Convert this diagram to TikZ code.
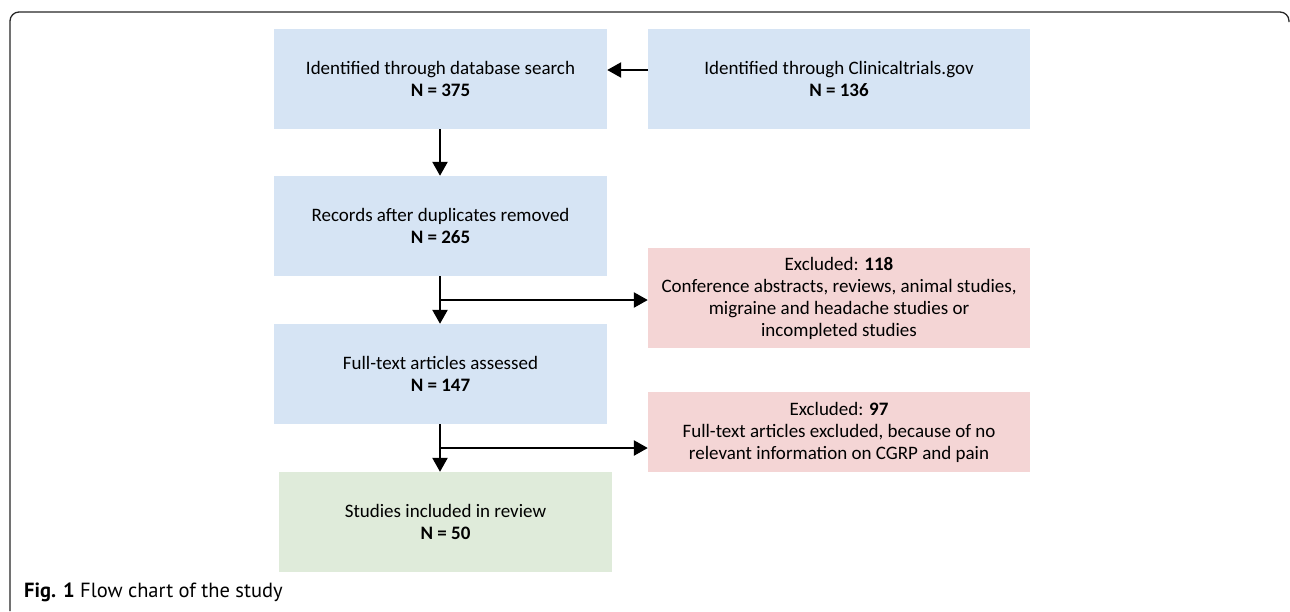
\documentclass[tikz,border=0pt]{standalone}
\usepackage{fontspec}
\setmainfont{Carlito}
\newfontfamily\capfont{PT Sans}
\usetikzlibrary{arrows.meta}
\definecolor{boxblue}{HTML}{D6E4F4}
\definecolor{boxred}{HTML}{F4D5D5}
\definecolor{boxgreen}{HTML}{DFEBDA}
\begin{document}
\begin{tikzpicture}[x=1pt,y=-1pt,
  box/.style={rectangle, inner sep=0pt, align=center, font=\fontsize{19}{22}\selectfont, text=black},
  bluebox/.style={box, fill=boxblue, minimum width=333pt, minimum height=100pt},
  redbox/.style={box, fill=boxred, minimum width=382pt},
  arr/.style={line width=2.5pt, -{Triangle[length=14pt,width=15pt]}},
]
\useasboundingbox (0,0) rectangle (1290,611);
% frame
\draw[line width=1.3pt, black!85, rounded corners=9pt] (10,611) -- (10,12) -- (1289,12) -- (1289,22);
% nodes
\node[bluebox] (db) at (440.5,79) {Identified through database search\\\textbf{N = 375}};
\node[box, fill=boxblue, minimum width=382pt, minimum height=100pt] (ct) at (839,79) {Identified through Clinicaltrials.gov\\\textbf{N = 136}};
\node[bluebox] (rec) at (440.5,226) {Records after duplicates removed\\\textbf{N = 265}};
\node[redbox, minimum height=100pt] (ex1) at (839,298) {Excluded: \textbf{118}\\Conference abstracts, reviews, animal studies,\\migraine and headache studies or\\incompleted studies};
\node[bluebox] (full) at (440.5,374) {Full-text articles assessed\\\textbf{N = 147}};
\node[redbox, minimum height=80pt] (ex2) at (839,432) {Excluded: \textbf{97}\\Full-text articles excluded, because of no\\relevant information on CGRP and pain};
\node[box, fill=boxgreen, minimum width=333pt, minimum height=100pt] (inc) at (445.5,522) {Studies included in review\\\textbf{N = 50}};
% branch points
\coordinate (j1) at (440,300);
\coordinate (j2) at (440,448);
% connectors
\draw[arr] (ct.west |- 0,70) -- (db.east |- 0,70);
\draw[arr] (db.south -| j1) -- (rec.north -| j1);
\draw[arr] (rec.south -| j1) -- (full.north -| j1);
\draw[arr] (j1) -- (ex1.west |- j1);
\draw[arr] (full.south -| j2) -- (inc.north -| j2);
\draw[arr] (j2) -- (ex2.west |- j2);
% caption
\node[anchor=base west, inner sep=0pt, font=\capfont\fontsize{20.5}{24}\selectfont] (cap) at (24,597) {\textbf{Fig. 1} Flow chart of the study};
\end{tikzpicture}
\end{document}
